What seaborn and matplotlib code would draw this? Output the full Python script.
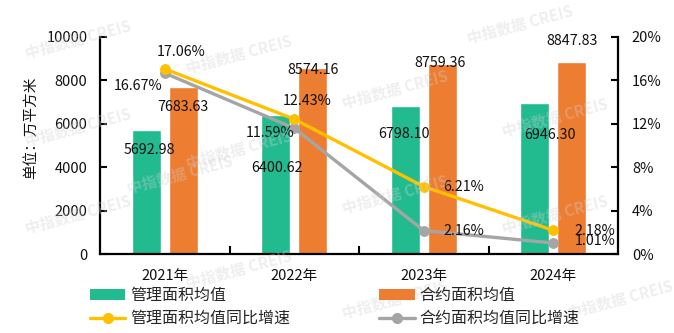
import numpy as np
import pandas as pd
import seaborn as sns
import matplotlib.pyplot as plt
from matplotlib.patches import Patch
from matplotlib.lines import Line2D
from matplotlib.ticker import FuncFormatter

# ---- data ----
years = ["2021年", "2022年", "2023年", "2024年"]
mgmt_area = [5692.98, 6400.62, 6798.10, 6946.30]
contract_area = [7683.63, 8574.16, 8759.36, 8847.83]
mgmt_growth = [17.06, 12.43, 6.21, 2.18]
contract_growth = [16.67, 11.59, 2.16, 1.01]
series_names = ["管理面积均值", "合约面积均值", "管理面积均值同比增速", "合约面积均值同比增速"]
y_label = "单位：万平方米"

GREEN = "#22BB90"
ORANGE = "#ED7D31"
YELLOW = "#FFC000"
GRAY = "#A5A5A5"
TXT = "#111111"

sns.set_theme(style="white")
plt.rcParams['font.family'] = ['Noto Sans CJK SC', 'DejaVu Sans']

fig = plt.figure(figsize=(6.74, 3.33), dpi=100)
W, H = 674, 333
ax = fig.add_axes([100 / W, 1 - 254 / H, 518 / W, 217 / H])

# watermarks
wm_pos = [(78, 40), (239, 55), (520, 25), (78, 128), (239, 150), (395, 90), (555, 118),
          (78, 215), (239, 270), (395, 195), (555, 215), (180, 175), (395, 300), (620, 300)]
for (px, py) in wm_pos:
    fig.text(px / W, 1 - py / H, "中指数据 CREIS", rotation=15, color="#d0d0d0", alpha=0.35,
             fontsize=11, fontweight="bold", ha="center", va="center", zorder=0)

df = pd.DataFrame({
    "年份": years * 2,
    "面积": mgmt_area + contract_area,
    "系列": [series_names[0]] * 4 + [series_names[1]] * 4,
})
sns.barplot(data=df, x="年份", y="面积", hue="系列", palette=[GREEN, ORANGE],
            width=0.572, gap=0.22, saturation=1, ax=ax, legend=False, zorder=2)
ax.set_xlim(-0.5, 3.5)
ax.set_ylim(0, 10000)
ax.set_yticks(range(0, 10001, 2000))
ax.set_xlabel("")
ax.set_ylabel(y_label, fontsize=10.5, color=TXT)
ax.yaxis.set_label_coords(-0.12, 0.58)
ax.patch.set_alpha(0)

for s in ["top", "right"]:
    ax.spines[s].set_visible(False)
for s in ["left", "bottom"]:
    ax.spines[s].set_color("black")
    ax.spines[s].set_linewidth(1.6)

ax.tick_params(axis="y", direction="in", length=5, width=1.5, color="black",
               labelsize=10.5, labelcolor=TXT, pad=9, left=True)
ax.tick_params(axis="x", which="major", length=0, labelsize=10.5, labelcolor=TXT, pad=11)
ax.set_xticks([0.5, 1.5, 2.5], minor=True)
ax.tick_params(axis="x", which="minor", direction="in", length=6, width=1.5, color="black", bottom=True)

# bar labels (pixel offsets from bar top)
off = 0.143
g_off = [(3, -20), (1, -53), (-1, -28), (15, -32)]
o_off = [(0, -20), (0, -2), (-2, 1), (0, 21)]
for i in range(4):
    ax.annotate(f"{mgmt_area[i]:.2f}", (i - off, mgmt_area[i]), xytext=g_off[i],
                textcoords="offset pixels", ha="center", va="center", fontsize=10.3, color=TXT, zorder=5)
    ax.annotate(f"{contract_area[i]:.2f}", (i + off, contract_area[i]), xytext=o_off[i],
                textcoords="offset pixels", ha="center", va="center", fontsize=10.3, color=TXT, zorder=5)

# growth lines
ax2 = ax.twinx()
xpos = np.arange(len(years))
sns.lineplot(x=xpos, y=contract_growth, ax=ax2, color=GRAY, linewidth=2.4, marker="o",
             markersize=7, markeredgecolor=GRAY, zorder=3)
sns.lineplot(x=xpos, y=mgmt_growth, ax=ax2, color=YELLOW, linewidth=2.4, marker="o",
             markersize=7, markeredgecolor=YELLOW, zorder=4)
ax2.set_ylim(0, 20)
ax2.set_xlim(-0.5, 3.5)
ax2.set_yticks(range(0, 21, 4))
ax2.yaxis.set_major_formatter(FuncFormatter(lambda v, p: f"{v:.0f}%"))
ax2.tick_params(axis="y", direction="in", length=5, width=1.5, color="black",
                labelsize=10.5, labelcolor=TXT, pad=10, right=True)
for s in ["top", "left", "bottom"]:
    ax2.spines[s].set_visible(False)
ax2.spines["right"].set_color("black")
ax2.spines["right"].set_linewidth(1.6)
ax2.set_ylabel("")

y_off = [(16, 17), (13, 18), (40, 0), (42, -1)]
c_off = [(-27, -13), (-24, -5), (40, 0), (42, 2)]
for i in range(4):
    ax2.annotate(f"{mgmt_growth[i]:.2f}%", (xpos[i], mgmt_growth[i]), xytext=y_off[i],
                 textcoords="offset pixels", ha="center", va="center", fontsize=10.3, color=TXT, zorder=6)
    ax2.annotate(f"{contract_growth[i]:.2f}%", (xpos[i], contract_growth[i]), xytext=c_off[i],
                 textcoords="offset pixels", ha="center", va="center", fontsize=10.3, color=TXT, zorder=6)

handles = [
    Patch(facecolor=GREEN, edgecolor="none"),
    Line2D([], [], color=YELLOW, lw=2.4, marker="o", markersize=7),
    Patch(facecolor=ORANGE, edgecolor="none"),
    Line2D([], [], color=GRAY, lw=2.4, marker="o", markersize=7),
]
labels = [series_names[0], series_names[2], series_names[1], series_names[3]]
fig.legend(handles, labels, ncol=2, loc="upper left", bbox_to_anchor=(90 / W, 1 - 287 / H),
           frameon=False, fontsize=11.5, handlelength=2.2, handleheight=0.65, handletextpad=0.3,
           columnspacing=5.6, labelspacing=0.38, borderaxespad=0, borderpad=0)

fig.savefig("out.png", dpi=100)
